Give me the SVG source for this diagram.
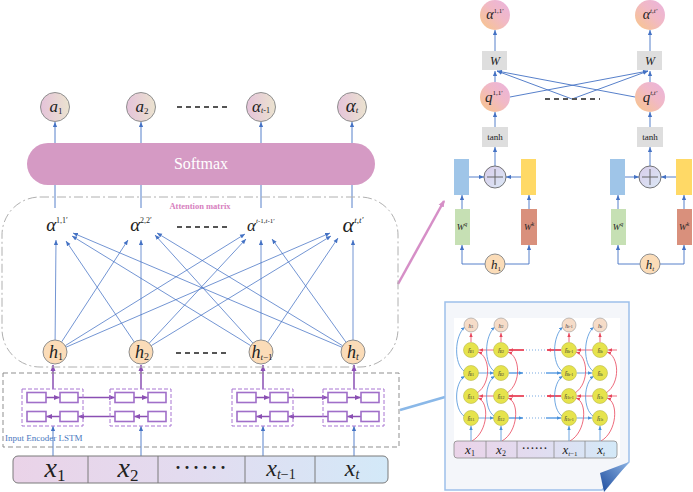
<svg xmlns="http://www.w3.org/2000/svg" width="693" height="492" viewBox="0 0 693 492">
<defs>
<style>
.t{font-family:"Liberation Serif","Times New Roman",serif;fill:#222}
.it{font-style:italic}
.al{stroke:#4472c4;stroke-width:0.75;fill:none;marker-end:url(#ab)}
.bl{stroke:#4472c4;stroke-width:0.9;fill:none}
.ba{stroke:#4472c4;stroke-width:0.9;fill:none;marker-end:url(#ab)}
.pa{stroke:#8a4fb3;stroke-width:1.5;fill:none;marker-end:url(#ap)}
.lr{fill:#fff;stroke:#a06fc9;stroke-width:1.6}
.blk{fill:none;stroke:#a874d2;stroke-width:1;stroke-dasharray:4 2}
.oc{fill:url(#gOut);stroke:#8f8f8f;stroke-width:1}
.hc{fill:#fbdcb8;stroke:#8f8f8f;stroke-width:1}
.rc{fill:url(#gRose);stroke:none}
.gb{fill:#dedede}
.ir{stroke:#e8455a;stroke-width:0.8;fill:none;marker-end:url(#ar)}
.irt{stroke:#e8455a;stroke-width:1.8;fill:none;marker-end:url(#ar)}
.ib{stroke:#4a90d9;stroke-width:0.8;fill:none;marker-end:url(#ai)}
.ibt{stroke:#6aa6e6;stroke-width:1.6;fill:none;marker-end:url(#ai)}
.iy{fill:#e6e34c;stroke:#b9b84a;stroke-width:0.6}
.ip{fill:#f6dcc8;stroke:#999;stroke-width:0.6}
.dots{stroke:#79a9e0;stroke-width:1;stroke-dasharray:1 2}
</style>
<marker id="ab" viewBox="0 0 6 6" refX="6" refY="3" markerWidth="5" markerHeight="5" orient="auto" markerUnits="userSpaceOnUse"><path d="M0,0.5 L6,3 L0,5.5 z" fill="#4472c4"/></marker>
<marker id="ap" viewBox="0 0 6 6" refX="6" refY="3" markerWidth="6" markerHeight="6" orient="auto" markerUnits="userSpaceOnUse"><path d="M0,0.5 L6,3 L0,5.5 z" fill="#8a4fb3"/></marker>
<marker id="ar" viewBox="0 0 6 6" refX="6" refY="3" markerWidth="4" markerHeight="4" orient="auto" markerUnits="userSpaceOnUse"><path d="M0,0.5 L6,3 L0,5.5 z" fill="#e8455a"/></marker>
<marker id="ai" viewBox="0 0 6 6" refX="6" refY="3" markerWidth="4" markerHeight="4" orient="auto" markerUnits="userSpaceOnUse"><path d="M0,0.5 L6,3 L0,5.5 z" fill="#4a90d9"/></marker>
<marker id="apk" viewBox="0 0 6 6" refX="5" refY="3" markerWidth="7" markerHeight="7" orient="auto" markerUnits="userSpaceOnUse"><path d="M0,0.5 L6,3 L0,5.5 z" fill="#d68fc7"/></marker>
<linearGradient id="gOut" x1="0" y1="0" x2="1" y2="0"><stop offset="0" stop-color="#e5c3da"/><stop offset="1" stop-color="#ebe3cf"/></linearGradient>
<linearGradient id="gRose" x1="0" y1="1" x2="1" y2="0"><stop offset="0" stop-color="#f8c687"/><stop offset="0.55" stop-color="#f1b9c6"/><stop offset="1" stop-color="#eab3de"/></linearGradient>
<linearGradient id="gBar" x1="0" y1="0" x2="1" y2="0"><stop offset="0" stop-color="#ead3e8"/><stop offset="0.5" stop-color="#e2dcf0"/><stop offset="1" stop-color="#d3e9f8"/></linearGradient>
<linearGradient id="gPlus" x1="0" y1="0" x2="1" y2="1"><stop offset="0" stop-color="#d9cdea"/><stop offset="1" stop-color="#dbe8f6"/></linearGradient>
<linearGradient id="gCurl" x1="0" y1="1" x2="1" y2="0"><stop offset="0" stop-color="#1d4c9e"/><stop offset="1" stop-color="#8cb2e2"/></linearGradient>
</defs>
<rect width="693" height="492" fill="#fff"/>

<!-- connectors -->
<g id="connectors">
  <!-- softmax to outputs -->
  <line class="ba" x1="55" y1="143" x2="55" y2="122"/>
  <line class="ba" x1="141" y1="143" x2="141" y2="122"/>
  <line class="ba" x1="261" y1="143" x2="261" y2="122"/>
  <line class="ba" x1="352" y1="143" x2="352" y2="122"/>
  <!-- alphas to softmax -->
  <line class="bl" x1="55" y1="208" x2="55" y2="185"/>
  <line class="bl" x1="141" y1="208" x2="141" y2="185"/>
  <line class="bl" x1="261" y1="208" x2="261" y2="185"/>
  <line class="bl" x1="352" y1="208" x2="352" y2="185"/>
  <!-- attention lines -->
  <line class="al" x1="55.1" y1="340" x2="56" y2="240"/>
  <line class="al" x1="61.6" y1="341.9" x2="128" y2="240"/>
  <line class="al" x1="65.2" y1="345.7" x2="245" y2="234"/>
  <line class="al" x1="66" y1="347.2" x2="330" y2="233"/>
  <line class="al" x1="134.3" y1="342.1" x2="66" y2="241"/>
  <line class="al" x1="141" y1="340" x2="141" y2="240"/>
  <line class="al" x1="149.2" y1="343.2" x2="246" y2="239"/>
  <line class="al" x1="151.2" y1="345.7" x2="331" y2="236"/>
  <line class="al" x1="250.8" y1="345.7" x2="72" y2="236"/>
  <line class="al" x1="252.9" y1="343.1" x2="155" y2="235"/>
  <line class="al" x1="261" y1="340" x2="261" y2="240"/>
  <line class="al" x1="267.7" y1="342.1" x2="338" y2="238"/>
  <line class="al" x1="342" y1="347.3" x2="73" y2="233"/>
  <line class="al" x1="342.7" y1="345.8" x2="157" y2="233"/>
  <line class="al" x1="346" y1="342.2" x2="272" y2="239"/>
  <line class="al" x1="353" y1="340" x2="353" y2="240"/>
  <!-- LSTM to h -->
  <line class="pa" x1="53" y1="389" x2="53" y2="365"/>
  <line class="pa" x1="141" y1="389" x2="141" y2="365"/>
  <line class="pa" x1="263" y1="389" x2="263" y2="365"/>
  <line class="pa" x1="354" y1="389" x2="354" y2="365"/>
  <!-- LSTM internal arrows -->
  <line class="pa" x1="46" y1="397.5" x2="60" y2="397.5"/>
  <line class="pa" x1="60" y1="416.5" x2="46" y2="416.5"/>
  <line class="pa" x1="78" y1="397.5" x2="115" y2="397.5"/>
  <line class="pa" x1="115" y1="416.5" x2="78" y2="416.5"/>
  <line class="pa" x1="134" y1="397.5" x2="148" y2="397.5"/>
  <line class="pa" x1="148" y1="416.5" x2="134" y2="416.5"/>
  <line class="pa" x1="256" y1="397.5" x2="270" y2="397.5"/>
  <line class="pa" x1="270" y1="416.5" x2="256" y2="416.5"/>
  <line class="pa" x1="288" y1="397.5" x2="328" y2="397.5"/>
  <line class="pa" x1="328" y1="416.5" x2="288" y2="416.5"/>
  <line class="pa" x1="347" y1="397.5" x2="361" y2="397.5"/>
  <line class="pa" x1="361" y1="416.5" x2="347" y2="416.5"/>
  <!-- inputs to LSTM -->
  <line class="ba" x1="53" y1="456" x2="53" y2="426"/>
  <line class="ba" x1="141" y1="456" x2="141" y2="426"/>
  <line class="ba" x1="263" y1="456" x2="263" y2="426"/>
  <line class="ba" x1="354" y1="456" x2="354" y2="426"/>
  <!-- right detail connectors -->
  <line class="ba" x1="495" y1="51" x2="495" y2="30"/>
  <line class="ba" x1="650" y1="51" x2="650" y2="30"/>
  <line class="ba" x1="495" y1="82" x2="495" y2="71"/>
  <line class="ba" x1="650" y1="82" x2="650" y2="71"/>
  <line class="ba" x1="510" y1="97" x2="648" y2="71"/>
  <line class="ba" x1="635" y1="97" x2="497" y2="71"/>
  <line class="ba" x1="572" y1="99" x2="497" y2="71"/>
  <line class="ba" x1="572" y1="99" x2="648" y2="71"/>
  <line class="ba" x1="495" y1="127" x2="495" y2="112"/>
  <line class="ba" x1="650" y1="127" x2="650" y2="112"/>
  <line class="ba" x1="495" y1="166" x2="495" y2="147"/>
  <line class="ba" x1="650" y1="166" x2="650" y2="147"/>
  <line class="ba" x1="469" y1="177" x2="484" y2="177"/>
  <line class="ba" x1="521" y1="177" x2="506" y2="177"/>
  <line class="ba" x1="625" y1="177" x2="639" y2="177"/>
  <line class="ba" x1="676" y1="177" x2="661" y2="177"/>
  <line class="ba" x1="462" y1="209" x2="462" y2="195"/>
  <line class="ba" x1="529" y1="209" x2="529" y2="195"/>
  <line class="ba" x1="618" y1="209" x2="618" y2="195"/>
  <line class="ba" x1="684" y1="209" x2="684" y2="195"/>
  <path class="ba" d="M485,264 H462 V245"/>
  <path class="ba" d="M505,264 H529 V245"/>
  <path class="ba" d="M640,264 H618 V245"/>
  <path class="ba" d="M660,264 H684 V245"/>
  <!-- callout lines -->
  <line x1="398" y1="284" x2="444" y2="201" stroke="#d68fc7" stroke-width="2.5" marker-end="url(#apk)"/>
  <line x1="400" y1="410" x2="445" y2="397" stroke="#8ab8e8" stroke-width="2.5"/>
</g>

<!-- output nodes -->
<g id="out-a1"><circle class="oc" cx="55" cy="107" r="14.5"/><text class="t" x="56" y="112" text-anchor="middle"><tspan class="it" font-size="17">a</tspan><tspan font-size="9" dy="2">1</tspan></text></g>
<g id="out-a2"><circle class="oc" cx="141" cy="107" r="14.5"/><text class="t" x="142" y="112" text-anchor="middle"><tspan class="it" font-size="17">a</tspan><tspan font-size="9" dy="2">2</tspan></text></g>
<g id="out-atm1"><circle class="oc" cx="261" cy="107" r="14.5"/><text class="t" x="261" y="112" text-anchor="middle"><tspan class="it" font-size="17">α</tspan><tspan class="it" font-size="8" dy="1">t</tspan><tspan font-size="8">-1</tspan></text></g>
<g id="out-at"><circle class="oc" cx="352" cy="107" r="14.5"/><text class="t" x="352" y="112" text-anchor="middle"><tspan class="it" font-size="19">α</tspan><tspan class="it" font-size="9" dy="1">t</tspan></text></g>
<line x1="177" y1="107" x2="229" y2="107" stroke="#555" stroke-width="1.8" stroke-dasharray="5 4"/>

<!-- softmax -->
<g id="softmax"><rect x="27" y="143" width="348" height="42" rx="21" fill="#d59ac4"/><text class="t" x="201" y="169" text-anchor="middle" font-size="16" fill="#fff" style="fill:#fff">Softmax</text></g>

<!-- attention matrix -->
<g id="attention-matrix">
  <rect x="2" y="197" width="396" height="170" rx="38" fill="none" stroke="#b0b0b0" stroke-width="1" stroke-dasharray="9 3 2 3"/>
  <text class="t" x="200" y="209" text-anchor="middle" font-size="8.5" font-weight="bold" style="fill:#d77fc0">Attention matrix</text>
  <text class="t" x="57" y="231" text-anchor="middle"><tspan class="it" font-size="19">α</tspan><tspan font-size="8" dy="-8">1,1′</tspan></text>
  <text class="t" x="141" y="231" text-anchor="middle"><tspan class="it" font-size="19">α</tspan><tspan font-size="8" dy="-8">2,2′</tspan></text>
  <text class="t" x="261" y="231" text-anchor="middle"><tspan class="it" font-size="17">α</tspan><tspan class="it" font-size="7" dy="-8">t</tspan><tspan font-size="7">-1,</tspan><tspan class="it" font-size="7">t</tspan><tspan font-size="7">-1′</tspan></text>
  <text class="t" x="353" y="232" text-anchor="middle"><tspan class="it" font-size="22">α</tspan><tspan class="it" font-size="9" dy="-9">t</tspan><tspan font-size="9">,</tspan><tspan class="it" font-size="9">t′</tspan></text>
  <line x1="177" y1="227" x2="229" y2="227" stroke="#555" stroke-width="1.8" stroke-dasharray="5 4"/>
</g>

<!-- hidden nodes -->
<g id="h1"><circle class="hc" cx="55" cy="352" r="12"/><text class="t" x="56" y="358" text-anchor="middle"><tspan class="it" font-size="18">h</tspan><tspan font-size="10" dy="2">1</tspan></text></g>
<g id="h2"><circle class="hc" cx="141" cy="352" r="12"/><text class="t" x="142" y="358" text-anchor="middle"><tspan class="it" font-size="18">h</tspan><tspan font-size="10" dy="2">2</tspan></text></g>
<g id="htm1"><circle class="hc" cx="261" cy="352" r="12"/><text class="t" x="262" y="358" text-anchor="middle"><tspan class="it" font-size="18">h</tspan><tspan class="it" font-size="9" dy="2">t</tspan><tspan font-size="9">−1</tspan></text></g>
<g id="ht"><circle class="hc" cx="353" cy="352" r="12"/><text class="t" x="353" y="358" text-anchor="middle"><tspan class="it" font-size="18">h</tspan><tspan class="it" font-size="10" dy="2">t</tspan></text></g>
<line x1="176" y1="353" x2="228" y2="353" stroke="#555" stroke-width="1.8" stroke-dasharray="5 4"/>

<!-- LSTM encoder -->
<g id="lstm">
  <rect x="3" y="373" width="396" height="74" fill="none" stroke="#8f8f8f" stroke-width="1" stroke-dasharray="5 3"/>
  <text class="t" x="5" y="441" font-size="9" style="fill:#4a78c0">Input Encoder LSTM</text>
  <g id="lstm1"><rect class="blk" x="22" y="389" width="61" height="37"/><rect class="lr" x="27" y="392.5" width="19" height="10"/><rect class="lr" x="60" y="392.5" width="18" height="10"/><rect class="lr" x="27" y="411.5" width="19" height="10"/><rect class="lr" x="60" y="411.5" width="18" height="10"/></g>
  <g id="lstm2"><rect class="blk" x="110" y="389" width="61" height="37"/><rect class="lr" x="115" y="392.5" width="19" height="10"/><rect class="lr" x="148" y="392.5" width="18" height="10"/><rect class="lr" x="115" y="411.5" width="19" height="10"/><rect class="lr" x="148" y="411.5" width="18" height="10"/></g>
  <g id="lstm3"><rect class="blk" x="232" y="389" width="61" height="37"/><rect class="lr" x="237" y="392.5" width="19" height="10"/><rect class="lr" x="270" y="392.5" width="18" height="10"/><rect class="lr" x="237" y="411.5" width="19" height="10"/><rect class="lr" x="270" y="411.5" width="18" height="10"/></g>
  <g id="lstm4"><rect class="blk" x="323" y="389" width="61" height="37"/><rect class="lr" x="328" y="392.5" width="19" height="10"/><rect class="lr" x="361" y="392.5" width="18" height="10"/><rect class="lr" x="328" y="411.5" width="19" height="10"/><rect class="lr" x="361" y="411.5" width="18" height="10"/></g>
</g>

<!-- input bar -->
<g id="input-bar">
  <rect x="13" y="456" width="375" height="27" rx="5" fill="url(#gBar)" stroke="#7a7a7a" stroke-width="1"/>
  <line x1="88" y1="456" x2="88" y2="483" stroke="#7a7a7a"/>
  <line x1="158" y1="456" x2="158" y2="483" stroke="#7a7a7a"/>
  <line x1="245" y1="456" x2="245" y2="483" stroke="#7a7a7a"/>
  <line x1="315" y1="456" x2="315" y2="483" stroke="#7a7a7a"/>
  <text class="t" x="55" y="477" text-anchor="middle"><tspan class="it" font-size="28">x</tspan><tspan font-size="17" dy="4">1</tspan></text>
  <text class="t" x="128" y="477" text-anchor="middle"><tspan class="it" font-size="28">x</tspan><tspan font-size="17" dy="4">2</tspan></text>
  <text class="t" x="202" y="474" text-anchor="middle" font-size="18" font-weight="bold" letter-spacing="3">······</text>
  <text class="t" x="281" y="476" text-anchor="middle"><tspan class="it" font-size="24">x</tspan><tspan class="it" font-size="14" dy="3">t</tspan><tspan font-size="14">−1</tspan></text>
  <text class="t" x="352" y="476" text-anchor="middle"><tspan class="it" font-size="24">x</tspan><tspan class="it" font-size="14" dy="3">t</tspan></text>
</g>

<!-- right detail: attention score computation -->
<g id="alpha11"><circle class="rc" cx="495" cy="15" r="15"/><text class="t" x="495" y="19" text-anchor="middle"><tspan class="it" font-size="14">α</tspan><tspan font-size="7" dy="-6">1,1′</tspan></text></g>
<g id="alphatt"><circle class="rc" cx="650" cy="15" r="15"/><text class="t" x="650" y="19" text-anchor="middle"><tspan class="it" font-size="14">α</tspan><tspan class="it" font-size="7" dy="-6">t</tspan><tspan font-size="7">,</tspan><tspan class="it" font-size="7">t′</tspan></text></g>
<g id="W1"><rect class="gb" x="482" y="51" width="25" height="19"/><text class="t it" x="495" y="65" text-anchor="middle" font-size="12">W</text></g>
<g id="Wt"><rect class="gb" x="637" y="51" width="25" height="19"/><text class="t it" x="650" y="65" text-anchor="middle" font-size="12">W</text></g>
<g id="q11"><circle class="rc" cx="495" cy="97" r="15"/><text class="t" x="494" y="102" text-anchor="middle"><tspan class="it" font-size="15">q</tspan><tspan font-size="7" dy="-7">1,1′</tspan></text></g>
<g id="qtt"><circle class="rc" cx="650" cy="97" r="15"/><text class="t" x="650" y="102" text-anchor="middle"><tspan class="it" font-size="15">q</tspan><tspan class="it" font-size="7" dy="-7">t</tspan><tspan font-size="7">,</tspan><tspan class="it" font-size="7">t′</tspan></text></g>
<line x1="545" y1="99" x2="600" y2="99" stroke="#555" stroke-width="1.8" stroke-dasharray="5 4"/>
<g id="tanh1"><rect class="gb" x="482" y="127" width="26" height="20"/><text class="t" x="495" y="140" text-anchor="middle" font-size="9">tanh</text></g>
<g id="tanht"><rect class="gb" x="637" y="127" width="26" height="20"/><text class="t" x="650" y="140" text-anchor="middle" font-size="9">tanh</text></g>
<g id="plus1"><circle cx="495" cy="177" r="11" fill="url(#gPlus)" stroke="#555" stroke-width="0.8"/><path d="M487,177 H503 M495,169 V185" stroke="#666" stroke-width="1"/></g>
<g id="plust"><circle cx="650" cy="177" r="11" fill="url(#gPlus)" stroke="#555" stroke-width="0.8"/><path d="M642,177 H658 M650,169 V185" stroke="#666" stroke-width="1"/></g>
<g id="q1vec"><rect x="454" y="159" width="15" height="36" fill="#9fc5e8"/></g>
<g id="k1vec"><rect x="521" y="159" width="15" height="36" fill="#ffd966"/></g>
<g id="qtvec"><rect x="610" y="159" width="15" height="36" fill="#9fc5e8"/></g>
<g id="ktvec"><rect x="676" y="159" width="16" height="36" fill="#ffd966"/></g>
<g id="Wq1"><rect x="455" y="209" width="15" height="36" fill="#c6e0b4"/><text class="t" x="462" y="230" text-anchor="middle"><tspan class="it" font-size="9">W</tspan><tspan class="it" font-size="6" dy="-4">q</tspan></text></g>
<g id="Wk1"><rect x="521" y="209" width="16" height="36" fill="#d9907c"/><text class="t" x="529" y="230" text-anchor="middle"><tspan class="it" font-size="9">W</tspan><tspan class="it" font-size="6" dy="-4">k</tspan></text></g>
<g id="Wqt"><rect x="611" y="209" width="15" height="36" fill="#c6e0b4"/><text class="t" x="618" y="230" text-anchor="middle"><tspan class="it" font-size="9">W</tspan><tspan class="it" font-size="6" dy="-4">q</tspan></text></g>
<g id="Wkt"><rect x="677" y="209" width="15" height="36" fill="#d9907c"/><text class="t" x="684" y="230" text-anchor="middle"><tspan class="it" font-size="9">W</tspan><tspan class="it" font-size="6" dy="-4">k</tspan></text></g>
<g id="hd1"><circle class="hc" cx="495" cy="264" r="10"/><text class="t" x="496" y="269" text-anchor="middle"><tspan class="it" font-size="13">h</tspan><tspan font-size="7" dy="2">1</tspan></text></g>
<g id="hdt"><circle class="hc" cx="650" cy="264" r="10"/><text class="t" x="650" y="269" text-anchor="middle"><tspan class="it" font-size="13">h</tspan><tspan class="it" font-size="7" dy="2">t</tspan></text></g>

<!-- inset: BiLSTM page -->
<g id="inset">
  <path d="M445,302 H629 V462 L602,490 H445 Z" fill="#f4f6fa" stroke="#9dc0ea" stroke-width="1.5"/>
  <rect x="454" y="318" width="166" height="140" fill="#fff"/>
  <polygon points="629,462 600,473 604,492" fill="url(#gCurl)"/>
  <!-- horizontal arrows -->
  <line class="ir" x1="494" y1="350" x2="479" y2="350"/><line class="irt" x1="524" y1="350" x2="509" y2="350"/><line class="irt" x1="561" y1="350" x2="547" y2="350"/><line class="ir" x1="593" y1="350" x2="577" y2="350"/><line class="ir" x1="617" y1="350" x2="608" y2="350"/>
  <line class="ir" x1="494" y1="396" x2="479" y2="396"/><line class="irt" x1="524" y1="396" x2="509" y2="396"/><line class="irt" x1="561" y1="396" x2="547" y2="396"/><line class="ir" x1="593" y1="396" x2="577" y2="396"/><line class="ir" x1="617" y1="396" x2="608" y2="396"/>
  <line class="ib" x1="478" y1="373" x2="494" y2="373"/><line class="ibt" x1="509" y1="373" x2="523" y2="373"/><line class="ibt" x1="546" y1="373" x2="561" y2="373"/><line class="ib" x1="577" y1="373" x2="592" y2="373"/>
  <line class="ib" x1="478" y1="418" x2="494" y2="418"/><line class="ibt" x1="509" y1="418" x2="523" y2="418"/><line class="ibt" x1="546" y1="418" x2="561" y2="418"/><line class="ib" x1="577" y1="418" x2="592" y2="418"/>
  <line class="dots" x1="526" y1="350" x2="545" y2="350"/><line class="dots" x1="526" y1="373" x2="545" y2="373"/><line class="dots" x1="526" y1="396" x2="545" y2="396"/><line class="dots" x1="526" y1="418" x2="545" y2="418"/>
  <!-- column arcs -->
  <g id="inset-col1">
    <path class="ib" d="M464,371 C454,364 454,336 465,327"/><path class="ib" d="M464,416 C454,409 454,383 465,376"/>
    <path class="ir" d="M472,441 C488,432 490,402 478,398"/><path class="ir" d="M477,393 C492,383 490,356 478,352"/>
    <line class="ir" x1="471" y1="342" x2="471" y2="333"/><line class="ib" x1="471" y1="441" x2="471" y2="426"/>
  </g>
  <g id="inset-col2">
    <path class="ib" d="M494,371 C484,364 484,336 495,327"/><path class="ib" d="M494,416 C484,409 484,383 495,376"/>
    <path class="ir" d="M502,441 C518,432 520,402 508,398"/><path class="ir" d="M507,393 C522,383 520,356 508,352"/>
    <line class="ir" x1="501" y1="342" x2="501" y2="333"/><line class="ib" x1="501" y1="441" x2="501" y2="426"/>
  </g>
  <g id="inset-col3">
    <path class="ib" d="M562,371 C552,364 552,336 563,327"/><path class="ib" d="M562,416 C552,409 552,383 563,376"/>
    <path class="ir" d="M570,441 C586,432 588,402 576,398"/><path class="ir" d="M575,393 C590,383 588,356 576,352"/>
    <line class="ir" x1="569" y1="342" x2="569" y2="333"/><line class="ib" x1="569" y1="441" x2="569" y2="426"/>
  </g>
  <g id="inset-col4">
    <path class="ib" d="M593,371 C583,364 583,336 594,327"/><path class="ib" d="M593,416 C583,409 583,383 594,376"/>
    <path class="ir" d="M601,441 C617,432 619,402 607,398"/><path class="ir" d="M606,393 C621,383 619,356 607,352"/>
    <line class="ir" x1="600" y1="342" x2="600" y2="333"/><line class="ib" x1="600" y1="441" x2="600" y2="426"/>
  </g>
  <!-- nodes -->
  <g font-family="Liberation Serif,serif" font-size="6" font-style="italic" fill="#333" text-anchor="middle">
    <circle class="ip" cx="471" cy="325" r="7"/><text x="471" y="328">h<tspan font-size="4" font-style="normal">1</tspan></text>
    <circle class="ip" cx="501" cy="325" r="7"/><text x="501" y="328">h<tspan font-size="4" font-style="normal">2</tspan></text>
    <circle class="ip" cx="569" cy="325" r="7"/><text x="569" y="328">h<tspan font-size="4">t</tspan><tspan font-size="4" font-style="normal">-1</tspan></text>
    <circle class="ip" cx="600" cy="325" r="7"/><text x="600" y="328">h<tspan font-size="4">t</tspan></text>
    <circle class="iy" cx="471" cy="350" r="7.5"/><text x="471" y="353">h̄<tspan font-size="4" font-style="normal">l1</tspan></text>
    <circle class="iy" cx="501" cy="350" r="7.5"/><text x="501" y="353">h̄<tspan font-size="4" font-style="normal">l2</tspan></text>
    <circle class="iy" cx="569" cy="350" r="7.5"/><text x="569" y="353">h̄<tspan font-size="4" font-style="normal">lt-1</tspan></text>
    <circle class="iy" cx="600" cy="350" r="7.5"/><text x="600" y="353">h̄<tspan font-size="4" font-style="normal">lt</tspan></text>
    <circle class="iy" cx="471" cy="373" r="7.5"/><text x="471" y="376">h̄<tspan font-size="4" font-style="normal">l1</tspan></text>
    <circle class="iy" cx="501" cy="373" r="7.5"/><text x="501" y="376">h̄<tspan font-size="4" font-style="normal">l2</tspan></text>
    <circle class="iy" cx="569" cy="373" r="7.5"/><text x="569" y="376">h̄<tspan font-size="4" font-style="normal">lt-1</tspan></text>
    <circle class="iy" cx="600" cy="373" r="7.5"/><text x="600" y="376">h̄<tspan font-size="4" font-style="normal">lt</tspan></text>
    <circle class="iy" cx="471" cy="396" r="7.5"/><text x="471" y="399">h̄<tspan font-size="4" font-style="normal">11</tspan></text>
    <circle class="iy" cx="501" cy="396" r="7.5"/><text x="501" y="399">h̄<tspan font-size="4" font-style="normal">12</tspan></text>
    <circle class="iy" cx="569" cy="396" r="7.5"/><text x="569" y="399">h̄<tspan font-size="4" font-style="normal">1t-1</tspan></text>
    <circle class="iy" cx="600" cy="396" r="7.5"/><text x="600" y="399">h̄<tspan font-size="4" font-style="normal">1t</tspan></text>
    <circle class="iy" cx="471" cy="418" r="7.5"/><text x="471" y="421">h̄<tspan font-size="4" font-style="normal">11</tspan></text>
    <circle class="iy" cx="501" cy="418" r="7.5"/><text x="501" y="421">h̄<tspan font-size="4" font-style="normal">12</tspan></text>
    <circle class="iy" cx="569" cy="418" r="7.5"/><text x="569" y="421">h̄<tspan font-size="4" font-style="normal">1t-1</tspan></text>
    <circle class="iy" cx="600" cy="418" r="7.5"/><text x="600" y="421">h̄<tspan font-size="4" font-style="normal">1t</tspan></text>
  </g>
  <!-- inset input bar -->
  <rect x="454" y="441" width="163" height="17" rx="3" fill="url(#gBar)" stroke="#8a8a8a" stroke-width="0.8"/>
  <line x1="486" y1="441" x2="486" y2="458" stroke="#8a8a8a" stroke-width="0.8"/>
  <line x1="517" y1="441" x2="517" y2="458" stroke="#8a8a8a" stroke-width="0.8"/>
  <line x1="554" y1="441" x2="554" y2="458" stroke="#8a8a8a" stroke-width="0.8"/>
  <line x1="585" y1="441" x2="585" y2="458" stroke="#8a8a8a" stroke-width="0.8"/>
  <text class="t" x="470" y="454" text-anchor="middle"><tspan class="it" font-size="13">x</tspan><tspan font-size="8" dy="2">1</tspan></text>
  <text class="t" x="501" y="454" text-anchor="middle"><tspan class="it" font-size="13">x</tspan><tspan font-size="8" dy="2">2</tspan></text>
  <text class="t" x="535" y="452" text-anchor="middle" font-size="10" font-weight="bold" letter-spacing="1">······</text>
  <text class="t" x="570" y="454" text-anchor="middle"><tspan class="it" font-size="13">x</tspan><tspan class="it" font-size="7" dy="2">t</tspan><tspan font-size="7">−1</tspan></text>
  <text class="t" x="601" y="454" text-anchor="middle"><tspan class="it" font-size="13">x</tspan><tspan class="it" font-size="7" dy="2">t</tspan></text>
</g>
</svg>
